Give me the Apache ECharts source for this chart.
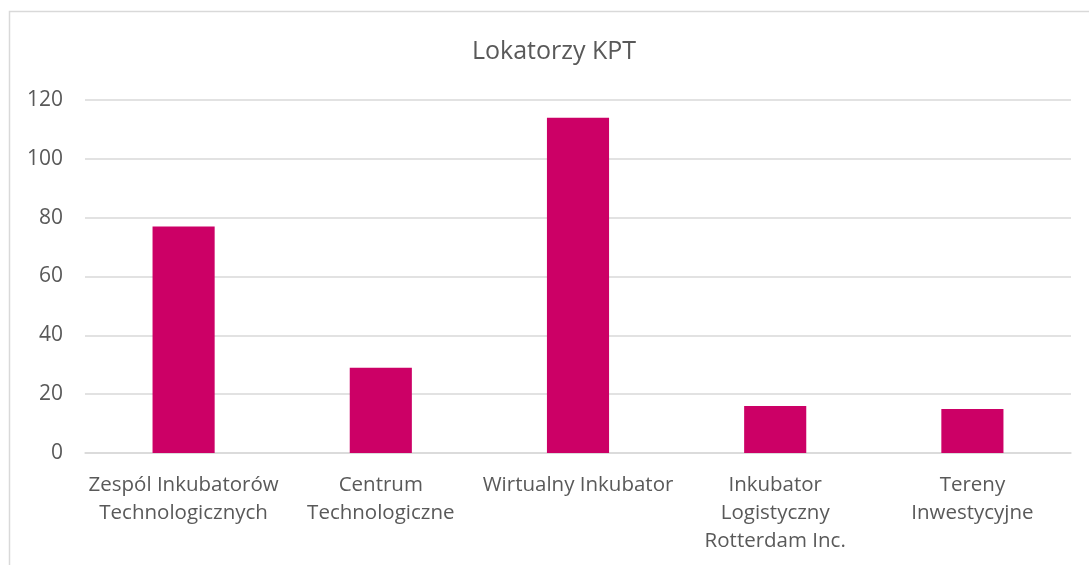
<!DOCTYPE html>
<html>
<head>
<meta charset="utf-8">
<script src="https://cdn.jsdelivr.net/npm/echarts@6/dist/echarts.min.js"></script>
<style>
  html, body { margin: 0; padding: 0; background: #fff; }
  #main { width: 1089px; height: 565px; }
</style>
</head>
<body>
<div id="main"></div>
<script>
var categories = [
    'Zespól Inkubatorów\nTechnologicznych',
    'Centrum\nTechnologiczne',
    'Wirtualny Inkubator',
    'Inkubator\nLogistyczny\nRotterdam Inc.',
    'Tereny\nInwestycyjne'
];
var values = [77, 29, 114, 16, 15];
var yTicks = [0, 20, 40, 60, 80, 100, 120];

var fontFamily = '"Open Sans", sans-serif';

var chart = echarts.init(document.getElementById('main'));

var option = {
    backgroundColor: '#fff',
    animation: false,
    title: {
        text: 'Lokatorzy KPT',
        left: 467,
        top: 34,
        textStyle: {
            color: '#595959',
            fontSize: 25,
            fontWeight: 'normal',
            fontFamily: fontFamily
        }
    },
    // chart frame (left and top edges visible)
    graphic: [{
        type: 'rect',
        shape: { x: 9.5, y: 11.5, width: 1200, height: 700 },
        style: { fill: 'none', stroke: '#d9d9d9', lineWidth: 1.5 },
        silent: true
    }],
    grid: {
        left: 85,
        right: 18,
        top: 100,
        bottom: 112
    },
    xAxis: {
        type: 'category',
        data: categories,
        axisLine: { show: true, lineStyle: { color: '#d9d9d9', width: 1.5 } },
        axisTick: { show: false },
        axisLabel: {
            color: '#595959',
            fontSize: 20.5,
            lineHeight: 28,
            margin: 18,
            interval: 0,
            fontFamily: fontFamily
        }
    },
    yAxis: {
        type: 'value',
        min: yTicks[0],
        max: yTicks[yTicks.length - 1],
        interval: 20,
        axisLine: { show: false },
        axisTick: { show: false },
        splitLine: { lineStyle: { color: '#d9d9d9', width: 1.5 } },
        axisLabel: {
            color: '#595959',
            fontSize: 21,
            margin: 22,
            fontFamily: fontFamily
        }
    },
    series: [{
        type: 'bar',
        data: values,
        barWidth: '31.5%',
        itemStyle: { color: '#CC0066' }
    }]
};

chart.setOption(option);
</script>
</body>
</html>
